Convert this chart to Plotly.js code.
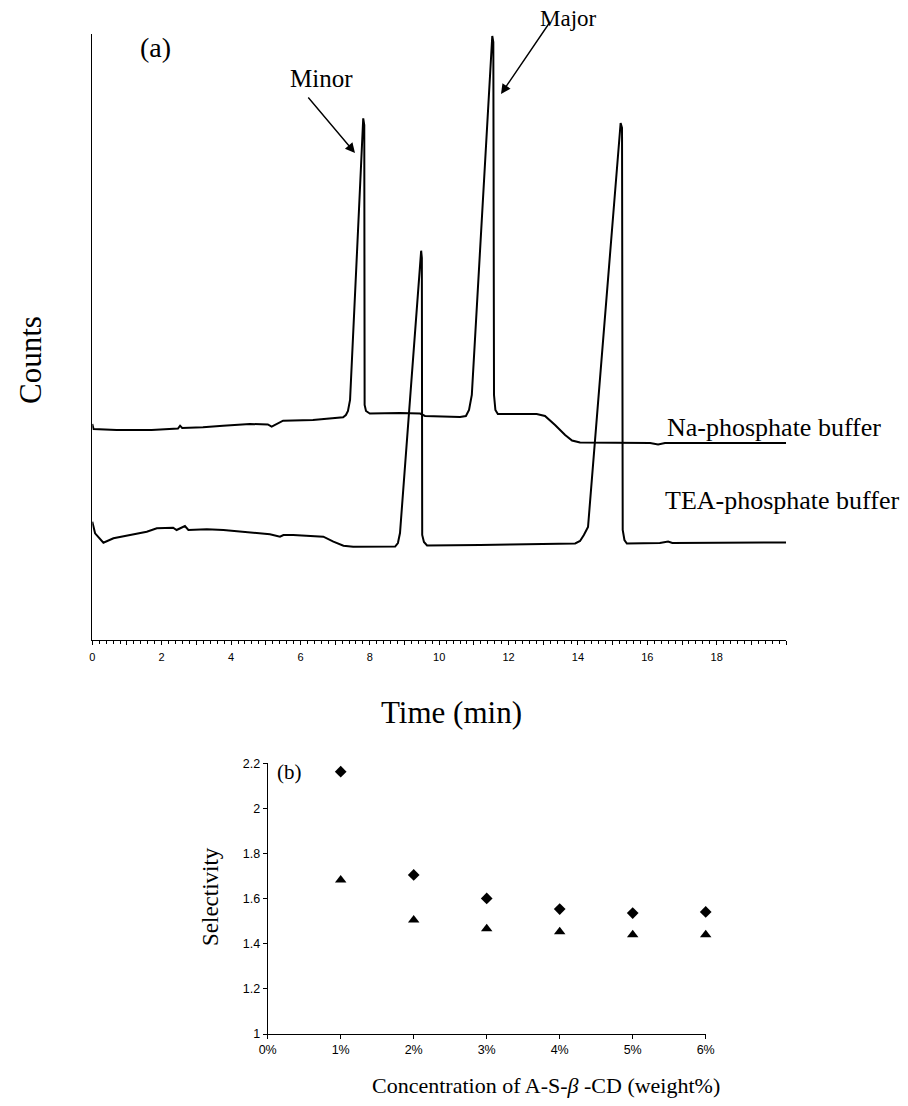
<!DOCTYPE html>
<html>
<head>
<meta charset="utf-8">
<script src="https://cdn.plot.ly/plotly-3.0.1.min.js"></script>
<style>
html,body{margin:0;padding:0;background:#fff;}
#chart{width:908px;height:1106px;}
</style>
</head>
<body>
<div id="chart"></div>
<script>
// ---- Panel (a): electropherograms (time in min, counts in arbitrary units) ----
var naTime = [0, 0.035, 0.70, 1.71, 2.47, 2.53, 2.59, 3.19, 3.77, 4.54, 5.06, 5.17, 5.50, 6.36, 7.23, 7.31, 7.37, 7.43, 7.62, 7.81, 7.84, 7.85, 7.89, 8.0, 8.87, 9.45, 9.59, 10.6, 10.77, 10.86, 10.94, 11.23, 11.53, 11.56, 11.58, 11.62, 11.69, 12.81, 13.05, 13.34, 13.63, 13.83, 14.06, 16.08, 16.31, 16.51, 20.0];
var naCounts = [216, 211, 210, 210, 211.5, 214.3, 212, 212.7, 214.3, 216, 215.5, 213.3, 219.3, 220, 222.7, 225, 229, 240, 380, 521.7, 515, 235, 229, 226.5, 227, 226.5, 224, 223, 224, 230, 245, 420, 604, 598, 245, 230, 226, 226, 224, 215, 205, 199.5, 197.5, 197, 195.5, 197, 197];

var teaTime = [0, 0.08, 0.32, 0.61, 1.09, 1.57, 1.86, 2.33, 2.43, 2.67, 2.77, 3.30, 3.78, 4.26, 4.83, 5.12, 5.41, 5.51, 5.79, 6.37, 6.66, 6.95, 7.24, 7.52, 8.73, 8.81, 8.87, 9.48, 9.50, 9.51, 9.56, 9.65, 10.60, 11.18, 12.04, 12.91, 13.92, 14.06, 14.17, 14.29, 15.23, 15.27, 15.29, 15.34, 15.41, 16.36, 16.60, 16.72, 20.0];
var teaCounts = [118.3, 106.7, 97.3, 101.7, 105, 108.3, 111.7, 112.3, 110, 114, 110, 110.7, 110, 108.3, 106.7, 105.7, 103.3, 105, 105, 104, 103.3, 98.3, 94.3, 93.3, 93.5, 97, 107, 389.3, 382, 105, 98, 94.5, 94.5, 95, 95.5, 96, 96.5, 99, 105, 113, 517, 512, 110, 100, 96.5, 97, 98.5, 97, 97.5];

var timeTickVals = [0, 1, 2, 3, 4, 5, 6, 7, 8, 9, 10, 11, 12, 13, 14, 15, 16, 17, 18, 19, 20];
var timeTickText = ['0', '', '2', '', '4', '', '6', '', '8', '', '10', '', '12', '', '14', '', '16', '', '18', '', ''];

// ---- Panel (b): selectivity vs A-S-beta-CD concentration ----
var concentration = [0.01, 0.02, 0.03, 0.04, 0.05, 0.06];
var selectivityDiamond = [2.163, 1.705, 1.601, 1.554, 1.536, 1.541];
var selectivityTriangle = [1.683, 1.505, 1.467, 1.453, 1.440, 1.440];
var concTickVals = [0, 0.01, 0.02, 0.03, 0.04, 0.05, 0.06];

var serif = 'Liberation Serif, Times New Roman, serif';
var sans = 'Liberation Sans, Arial, sans-serif';
var narrow = 'Liberation Sans Narrow, Liberation Sans, Arial, sans-serif';

var traces = [
  {x: naTime, y: naCounts, type: 'scatter', mode: 'lines', xaxis: 'x', yaxis: 'y',
   line: {color: '#000', width: 2}, hoverinfo: 'skip'},
  {x: teaTime, y: teaCounts, type: 'scatter', mode: 'lines', xaxis: 'x', yaxis: 'y',
   line: {color: '#000', width: 2}, hoverinfo: 'skip'},
  {x: concentration, y: selectivityDiamond, type: 'scatter', mode: 'markers', xaxis: 'x2', yaxis: 'y2',
   marker: {symbol: 'diamond', size: 9, color: '#000'}, cliponaxis: false},
  {x: concentration, y: selectivityTriangle, type: 'scatter', mode: 'markers', xaxis: 'x2', yaxis: 'y2',
   marker: {symbol: 'triangle-up', size: 10, color: '#000'}, cliponaxis: false}
];

function px(x){ return x / 908; }
function py(y){ return 1 - y / 1106; }

var layout = {
  width: 908, height: 1106,
  margin: {l: 0, r: 0, t: 0, b: 0},
  paper_bgcolor: '#fff', plot_bgcolor: '#fff',
  showlegend: false,
  xaxis: {
    domain: [px(92.3), px(786.1)], anchor: 'y',
    range: [0, 20], showgrid: false, zeroline: false,
    showline: true, linecolor: '#000', linewidth: 1,
    tickmode: 'array', tickvals: timeTickVals, ticktext: timeTickText,
    ticks: 'outside', ticklen: 4, tickwidth: 1, tickcolor: '#000',
    ticklabelstandoff: 3,
    tickfont: {family: narrow, size: 11, color: '#000'},
    minor: {tickmode: 'linear', tick0: 0, dtick: 0.2, ticks: 'outside', ticklen: 2.5, tickwidth: 1, tickcolor: '#000', showgrid: false}
  },
  yaxis: {
    domain: [py(640), py(34)], anchor: 'x',
    range: [0, 606], showgrid: false, zeroline: false,
    showline: true, linecolor: '#000', linewidth: 1,
    ticks: '', showticklabels: false
  },
  xaxis2: {
    domain: [px(267.7), px(705.7)], anchor: 'y2',
    range: [0, 0.06], showgrid: false, zeroline: false,
    showline: true, linecolor: '#000', linewidth: 1,
    tickmode: 'array', tickvals: concTickVals, tickformat: '.0%',
    ticks: 'outside', ticklen: 4, tickwidth: 1, tickcolor: '#000',
    tickfont: {family: sans, size: 12.5, color: '#000'}
  },
  yaxis2: {
    domain: [py(1034), py(763.3)], anchor: 'x2',
    range: [1, 2.2], dtick: 0.2, tick0: 1, showgrid: false, zeroline: false,
    showline: true, linecolor: '#000', linewidth: 1,
    ticks: 'outside', ticklen: 4, tickwidth: 1, tickcolor: '#000',
    tickfont: {family: sans, size: 12.5, color: '#000'}
  },
  annotations: [
    {text: 'Counts', xref: 'paper', yref: 'paper', x: px(30), y: py(360), textangle: -90,
     showarrow: false, font: {family: serif, size: 31, color: '#000'}, xanchor: 'center', yanchor: 'middle'},
    {text: 'Time (min)', xref: 'paper', yref: 'paper', x: px(451), y: py(712),
     showarrow: false, font: {family: serif, size: 31, color: '#000'}, xanchor: 'center', yanchor: 'middle'},
    {text: '(a)', xref: 'paper', yref: 'paper', x: px(155), y: py(48),
     showarrow: false, font: {family: serif, size: 28, color: '#000'}, xanchor: 'center', yanchor: 'middle'},
    {text: 'Minor', xref: 'paper', yref: 'paper', x: px(321), y: py(78),
     showarrow: false, font: {family: serif, size: 25, color: '#000'}, xanchor: 'center', yanchor: 'middle'},
    {text: 'Major', xref: 'paper', yref: 'paper', x: px(568), y: py(18),
     showarrow: false, font: {family: serif, size: 23, color: '#000'}, xanchor: 'center', yanchor: 'middle'},
    {text: 'Na-phosphate buffer', xref: 'paper', yref: 'paper', x: px(665), y: py(428),
     showarrow: false, font: {family: serif, size: 26, color: '#000'}, xanchor: 'left', yanchor: 'middle'},
    {text: 'TEA-phosphate buffer', xref: 'paper', yref: 'paper', x: px(663), y: py(500),
     showarrow: false, font: {family: serif, size: 26, color: '#000'}, xanchor: 'left', yanchor: 'middle'},
    {text: '', xref: 'paper', yref: 'paper', x: px(355), y: py(153), ax: -48, ay: -57,
     showarrow: true, arrowhead: 2, arrowsize: 1.4, arrowwidth: 1.4, arrowcolor: '#000', standoff: 0},
    {text: '', xref: 'paper', yref: 'paper', x: px(501), y: py(94), ax: 49, ay: -72,
     showarrow: true, arrowhead: 2, arrowsize: 1.4, arrowwidth: 1.4, arrowcolor: '#000', standoff: 0},
    {text: '(b)', xref: 'paper', yref: 'paper', x: px(289), y: py(772),
     showarrow: false, font: {family: serif, size: 21, color: '#000'}, xanchor: 'center', yanchor: 'middle'},
    {text: 'Selectivity', xref: 'paper', yref: 'paper', x: px(210), y: py(897), textangle: -90,
     showarrow: false, font: {family: serif, size: 23, color: '#000'}, xanchor: 'center', yanchor: 'middle'},
    {text: 'Concentration of A-S-<i>β</i> -CD (weight%)', xref: 'paper', yref: 'paper', x: px(546), y: py(1085),
     showarrow: false, font: {family: serif, size: 22, color: '#000'}, xanchor: 'center', yanchor: 'middle'}
  ]
};

Plotly.newPlot('chart', traces, layout, {staticPlot: true, displayModeBar: false});
</script>
</body>
</html>
